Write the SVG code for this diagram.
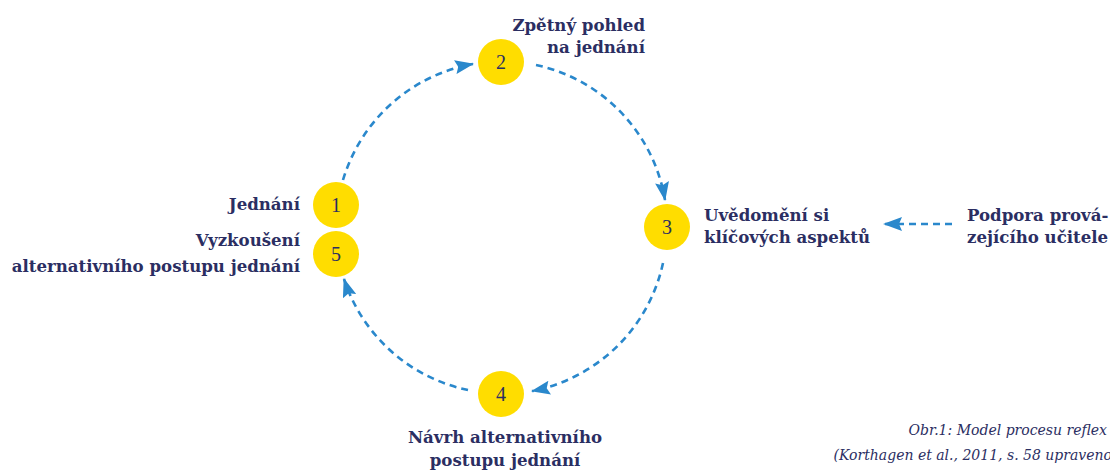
<svg xmlns="http://www.w3.org/2000/svg" width="1110" height="470" viewBox="0 0 1110 470">
<defs>
<marker id="ah" markerUnits="userSpaceOnUse" markerWidth="19" markerHeight="14" viewBox="0 0 19 14" refX="18" refY="7" orient="auto">
<path d="M0,0 L19,7 L0,14 L3,7 z" fill="#2a88cc"/>
</marker>
<style>
.lbl{font-family:"DejaVu Serif","Liberation Serif",serif;font-weight:bold;font-size:16.6px;fill:#2b2e62}
.num{font-family:"Liberation Serif","DejaVu Serif",serif;font-size:20px;fill:#2b2e62;text-anchor:middle}
.cap{font-family:"DejaVu Serif","Liberation Serif",serif;font-style:italic;font-size:14px;fill:#2b2e62;text-anchor:end}
.dot{fill:#ffdd00}
.con{fill:none;stroke:#2a88cc;stroke-width:2.6;stroke-dasharray:7 5;marker-end:url(#ah)}
</style>
</defs>
<rect width="1110" height="470" fill="#ffffff"/>
<g id="connectors">
<path class="con" d="M343,180 A166,166 0 0 1 473,64"/>
<path class="con" d="M536,65 A166,166 0 0 1 665,200"/>
<path class="con" d="M663,263 A166,166 0 0 1 532,391"/>
<path class="con" d="M468,390 A166,166 0 0 1 344,279"/>
<path class="con" d="M952,224 L884,224"/>
</g>
<g id="node1">
<circle class="dot" cx="336" cy="205" r="23"/>
<text class="num" x="336" y="212">1</text>
<text class="lbl" x="300" y="210" text-anchor="end">Jednání</text>
</g>
<g id="node5">
<circle class="dot" cx="336" cy="254" r="23"/>
<text class="num" x="336" y="261">5</text>
<text class="lbl" x="300" y="246" text-anchor="end">Vyzkoušení</text>
<text class="lbl" x="300" y="272" text-anchor="end">alternativního postupu jednání</text>
</g>
<g id="node2">
<circle class="dot" cx="501" cy="62" r="23"/>
<text class="num" x="501" y="69">2</text>
<text class="lbl" x="645" y="31" text-anchor="end">Zpětný pohled</text>
<text class="lbl" x="645" y="53" text-anchor="end">na jednání</text>
</g>
<g id="node3">
<circle class="dot" cx="667" cy="227" r="23"/>
<text class="num" x="667" y="234">3</text>
<text class="lbl" x="704" y="221">Uvědomění si</text>
<text class="lbl" x="704" y="243">klíčových aspektů</text>
</g>
<g id="node4">
<circle class="dot" cx="501" cy="394" r="23"/>
<text class="num" x="501" y="401">4</text>
<text class="lbl" x="505" y="443" text-anchor="middle">Návrh alternativního</text>
<text class="lbl" x="505" y="466" text-anchor="middle">postupu jednání</text>
</g>
<g id="support">
<text class="lbl" x="967" y="221">Podpora prová-</text>
<text class="lbl" x="967" y="243">zejícího učitele</text>
</g>
<g id="caption">
<text class="cap" x="1107" y="435">Obr.1: Model procesu reflex</text>
<text class="cap" x="1112" y="460">(Korthagen et al., 2011, s. 58 upraveno</text>
</g>
</svg>
